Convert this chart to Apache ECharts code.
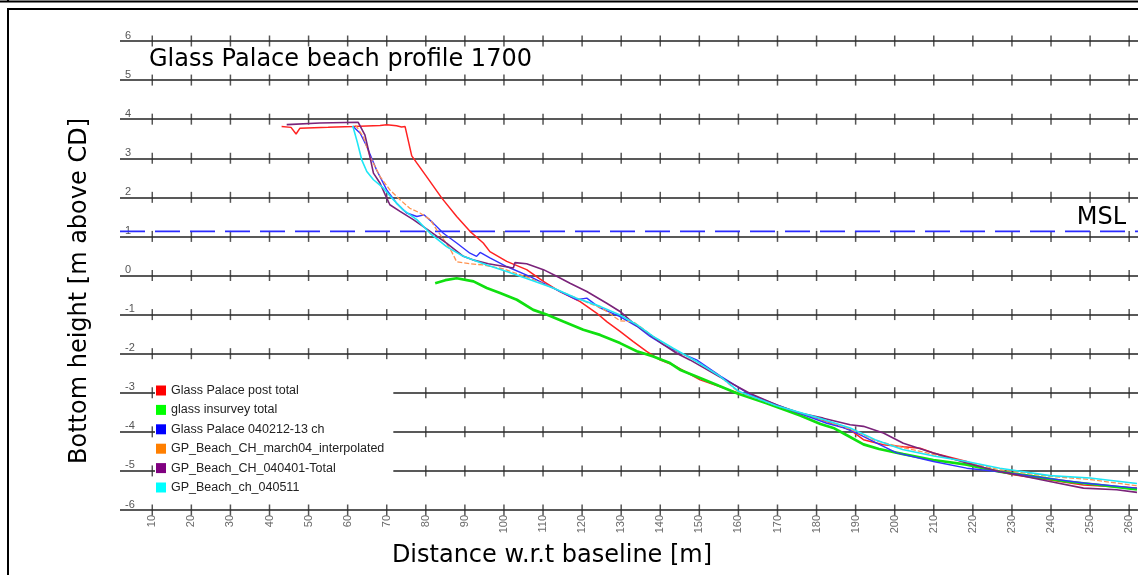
<!DOCTYPE html>
<html><head><meta charset="utf-8">
<script src="https://cdn.jsdelivr.net/npm/echarts@6/dist/echarts.min.js"></script>
<style>html,body{margin:0;padding:0;background:#fff}#c{width:1138px;height:575px}</style>
</head><body><div id="c"></div><script>
// ---- data (distance [m], bottom height [m above CD]) ----
const xTicks = [10,20,30,40,50,60,70,80,90,100,110,120,130,140,150,160,170,180,190,200,210,220,230,240,250,260];
const yTicks = [-6,-5,-4,-3,-2,-1,0,1,2,3,4,5,6];
const MSL = 1.13;
const seriesNames = ['Glass Palace post total','glass insurvey total','Glass Palace 040212-13 ch','GP_Beach_CH_march04_interpolated','GP_Beach_CH_040401-Total','GP_Beach_ch_040511'];

const postTotal = [[43.1,3.81],[45.5,3.79],[46.8,3.62],[47.8,3.77],[55,3.79],[61.4,3.81],[68.3,3.84],[70,3.86],[72.5,3.83],[73.8,3.80],[74.7,3.81],[76.4,3.06],[80.2,2.53],[84.1,1.98],[87.9,1.51],[91.3,1.13],[94.7,0.83],[96.4,0.61],[100.7,0.36],[105.8,0.15],[110.1,-0.15],[114.3,-0.41],[119.5,-0.67],[123.7,-0.96],[126.3,-1.18],[129.7,-1.43],[133.1,-1.69],[136.5,-1.94],[139.9,-2.16],[143.3,-2.29],[150.2,-2.67],[160,-3.01],[169.8,-3.35],[180,-3.65],[188.6,-3.95],[192,-4.2],[197.1,-4.33],[202.2,-4.38],[206.5,-4.42],[209.9,-4.54],[218.4,-4.76],[222.7,-4.93],[230.4,-5.10],[239.7,-5.23],[248.3,-5.36],[262,-5.44]];

const insurveyTotal = [[82.4,-0.20],[85,-0.12],[87.9,-0.07],[92.2,-0.15],[95.6,-0.32],[99,-0.45],[103.3,-0.62],[107.5,-0.88],[110.9,-1.0],[115.2,-1.18],[120.3,-1.39],[124.6,-1.52],[129.7,-1.73],[134,-1.94],[138.2,-2.07],[142.5,-2.24],[145,-2.41],[150.2,-2.62],[155,-2.82],[159.6,-3.01],[167.2,-3.27],[175.8,-3.58],[181,-3.80],[184.3,-3.90],[188,-4.10],[192,-4.32],[196,-4.44],[202.2,-4.57],[209.9,-4.72],[218.4,-4.84],[226.9,-5.02],[235.5,-5.14],[244,-5.27],[252.5,-5.36],[262,-5.47]];

const ch040212 = [[61.4,3.81],[63.2,3.64],[64.9,3.30],[67.4,2.70],[70,2.19],[72.5,1.85],[75.1,1.60],[77.7,1.51],[79.6,1.55],[81.9,1.34],[84.5,1.08],[87.9,0.83],[91.3,0.57],[93,0.49],[93.9,0.59],[96.4,0.45],[100.7,0.23],[106.7,-0.03],[112.6,-0.32],[118.6,-0.62],[121.2,-0.58],[124.6,-0.83],[129.7,-1.05],[134,-1.30],[137.4,-1.56],[140.8,-1.77],[144.2,-1.94],[149.3,-2.16],[155.5,-2.58],[163,-3.05],[173.2,-3.44],[182.6,-3.78],[187,-3.90],[190.3,-4.03],[195.4,-4.29],[200.5,-4.54],[209.9,-4.76],[218.4,-4.93],[226.9,-5.02],[235.5,-5.14],[248.3,-5.31],[262,-5.44]];

const march04 = [[62,3.85],[64,3.55],[65.7,3.05],[68.3,2.53],[70.8,2.19],[73.4,1.94],[75.9,1.72],[78.5,1.60],[81.1,1.43],[82.8,1.17],[84.9,0.87],[86.6,0.61],[87.9,0.35],[91.3,0.30],[94.7,0.27],[99.8,0.17],[106.7,-0.07],[112.6,-0.32],[118.6,-0.58],[124.6,-0.82],[126.3,-0.92],[129.7,-1.16],[133.1,-1.18],[138.2,-1.56],[143.3,-1.88],[149.3,-2.20],[155.3,-2.58],[160,-2.98],[169.8,-3.33],[180,-3.64],[188.6,-3.93],[195,-4.22],[202,-4.40],[210,-4.58],[218.4,-4.78],[226.9,-4.97],[239.7,-5.14],[250,-5.22],[262,-5.38]];

const ch040401 = [[44.4,3.86],[52.9,3.90],[62.7,3.92],[64.4,3.60],[65.3,3.22],[66.6,2.62],[68.3,2.36],[69.6,2.07],[70.8,1.81],[73.4,1.64],[76.8,1.43],[81.1,1.13],[85.3,0.83],[89.6,0.49],[92,0.40],[96,0.30],[102.4,0.19],[102.8,0.33],[105.8,0.30],[110.1,0.15],[113.5,-0.02],[116.9,-0.20],[121.2,-0.41],[126.3,-0.71],[129.7,-0.92],[133.1,-1.22],[137.4,-1.52],[140.8,-1.77],[144.2,-1.99],[147.6,-2.16],[155.3,-2.60],[163,-3.02],[170,-3.32],[175.7,-3.52],[181.7,-3.65],[188.6,-3.82],[192,-3.86],[197.1,-4.03],[202.2,-4.29],[209.9,-4.54],[218.4,-4.80],[226.9,-5.02],[231.2,-5.10],[239.7,-5.27],[248.3,-5.44],[256.8,-5.48],[262,-5.55]];

const ch040511 = [[61.3,3.83],[62.5,3.40],[63.6,2.96],[64.9,2.66],[66.6,2.45],[69.1,2.24],[71.7,1.94],[74.2,1.68],[77.7,1.43],[81.1,1.08],[85.3,0.74],[89.6,0.49],[95.6,0.27],[100.7,0.10],[106.7,-0.11],[112.6,-0.32],[118.6,-0.58],[124.6,-0.79],[129.7,-1.01],[134,-1.26],[138.2,-1.56],[143.3,-1.86],[149.3,-2.20],[155.3,-2.58],[160,-2.96],[169.8,-3.33],[180,-3.63],[188.6,-3.90],[195,-4.20],[202,-4.45],[210,-4.62],[218.4,-4.76],[226.9,-4.93],[239.7,-5.12],[250,-5.18],[262,-5.32]];

// ---- chart ----
const XMIN = 1.74, XMAX = 262.26;
const crosses = [];
yTicks.forEach(function(y){ xTicks.forEach(function(x){ crosses.push([x, y]); }); });

const legendColors = ['#ff0000','#00ff00','#0000ff','#ff7f00','#800080','#00ffff'];
const lineColors  = ['#ff2222','#10e010','#3333ff','#ff9350','#7a237a','#1ee6f5'];
const lineWidths  = [1.5, 2.7, 1.4, 1.3, 1.6, 1.6];
const datasets = [postTotal, insurveyTotal, ch040212, march04, ch040401, ch040511];

const chart = echarts.init(document.getElementById('c'), null, {renderer:'canvas'});
const series = [
  { type:'scatter', name:'ticks', data: crosses, symbol:'rect', symbolSize:[1.5,11],
    itemStyle:{color:'#2a2a2a'}, silent:true, z:1, animation:false }
];
datasets.forEach(function(d, i){
  series.push({
    type:'line', name: seriesNames[i], data: d, showSymbol:false, symbol:'none',
    itemStyle:{color: legendColors[i]},
    lineStyle:{color: lineColors[i], width: lineWidths[i], type: i===3 ? [5,2] : 'solid'},
    silent:true, z:3, animation:false
  });
});
series.push({
  type:'line', name:'MSL', data:[[XMIN, MSL],[XMAX, MSL]], showSymbol:false, symbol:'none',
  lineStyle:{color:'#2b2bff', width:1.6, type:[25,10]}, silent:true, z:2, animation:false
});

chart.setOption({
  animation:false,
  backgroundColor:'#fff',
  grid:{left:120, right:0, top:41, bottom:65},
  xAxis:{type:'value', min:XMIN, max:XMAX,
    axisLine:{show:false, onZero:false}, axisTick:{show:false}, splitLine:{show:false},
    axisLabel:{customValues:xTicks, rotate:90, margin:5, color:'#6a6a6a', fontSize:11,
      fontFamily:'"Liberation Sans", Arial, sans-serif'}},
  yAxis:{type:'value', min:-6, max:6, interval:1,
    axisLine:{show:false}, axisTick:{show:false},
    splitLine:{show:true, lineStyle:{color:'#222', width:1.6}},
    axisLabel:{inside:true, margin:5, verticalAlign:'bottom', color:'#555', fontSize:11,
      fontFamily:'"Liberation Sans", Arial, sans-serif'}},
  legend:{
    data: seriesNames, orient:'vertical', left:155, top:378,
    icon:'rect', itemWidth:10, itemHeight:10, itemGap:6.4,
    backgroundColor:'#fff', padding:[6,9,6,1], selectedMode:false,
    textStyle:{fontSize:12.5, lineHeight:10, color:'#222', fontFamily:'"Liberation Sans", Arial, sans-serif'},
    itemStyle:{borderWidth:0}, z:10
  },
  graphic:[
    {type:'line', shape:{x1:0,y1:1.5,x2:1138,y2:1.5}, style:{stroke:'#000', lineWidth:2}},
    {type:'line', shape:{x1:8,y1:0,x2:8,y2:2}, style:{stroke:'#000', lineWidth:2}},
    {type:'line', shape:{x1:7,y1:9,x2:1138,y2:9}, style:{stroke:'#000', lineWidth:2}},
    {type:'line', shape:{x1:8,y1:9,x2:8,y2:575}, style:{stroke:'#000', lineWidth:2}},
    {type:'text', x:149, y:59.5, style:{text:'Glass Palace beach profile 1700', font:'24px "DejaVu Sans"', fill:'#000', align:'left', verticalAlign:'middle'}, z:20},
    {type:'text', x:1126, y:218, style:{text:'MSL', font:'24px "DejaVu Sans"', fill:'#000', align:'right', verticalAlign:'middle'}, z:20},
    {type:'text', x:552, y:555.5, style:{text:'Distance w.r.t baseline [m]', font:'24px "DejaVu Sans"', fill:'#000', align:'center', verticalAlign:'middle'}, z:20},
    {type:'text', x:80, y:291, rotation:Math.PI/2, style:{text:'Bottom height [m above CD]', font:'24px "DejaVu Sans"', fill:'#000', align:'center', verticalAlign:'middle'}, z:20}
  ],
  series: series
});
</script></body></html>
